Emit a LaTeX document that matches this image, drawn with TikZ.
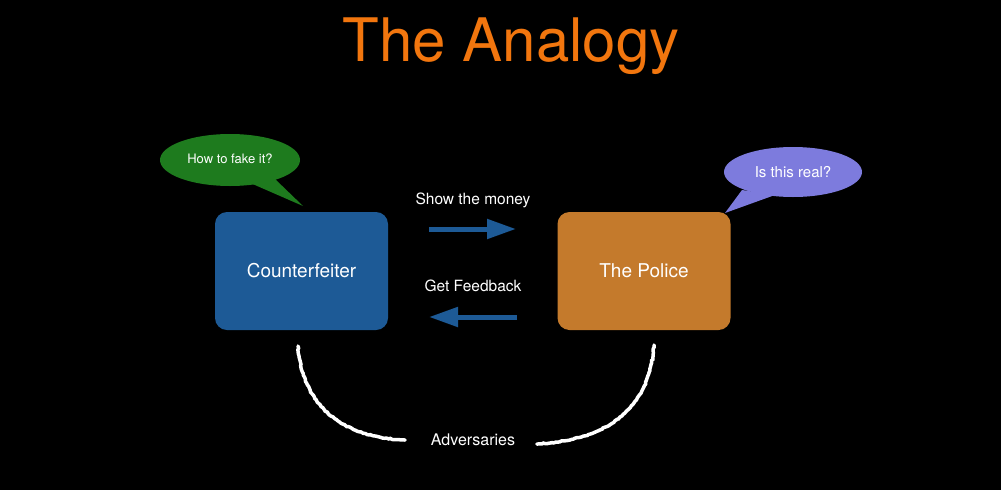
\documentclass[tikz,border=0pt]{standalone}
\usepackage{fontspec}
\setmainfont{TeX Gyre Heros}
\usetikzlibrary{arrows.meta,shapes.geometric,decorations.pathmorphing}
\definecolor{titleorange}{HTML}{F2760E}
\definecolor{boxblue}{HTML}{1D5A96}
\definecolor{boxorange}{HTML}{C47A2C}
\definecolor{bubblegreen}{HTML}{1E7B1E}
\definecolor{bubblepurple}{HTML}{7D7BDD}
\definecolor{arrowblue}{HTML}{1D5A96}
\begin{document}
\begin{tikzpicture}[x=1pt,y=-1pt,
  actor/.style={rounded corners=12pt, minimum width=173pt, minimum height=118pt,
    text=white, font=\fontsize{19}{22}\selectfont, inner sep=0pt},
  label/.style={text=white, font=\fontsize{15.5}{18}\selectfont, inner sep=0pt},
  flow/.style={draw=arrowblue, line width=5pt, -{Triangle[length=29pt,width=19pt]}},
  chalk/.style={draw=white, line width=3.5pt, line cap=round,
    decorate, decoration={random steps, segment length=2pt, amplitude=0.5pt}}]
  % canvas
  \fill[black] (0,0) rectangle (1001,490);
  \useasboundingbox (0,0) rectangle (1001,490);

  % title
  \node[text=titleorange, font=\fontsize{60}{66}\selectfont, inner sep=0pt] (title) at (511,46) {The Analogy};

  % speech bubbles (drawn first so the boxes overlap the tails)
  \fill[bubblegreen] (230,160) ellipse [x radius=70, y radius=26];
  \fill[bubblegreen] (248,182) -- (275,179) -- (303,206) -- cycle;
  \node[text=white, font=\fontsize{13}{15}\selectfont, inner sep=0pt] (fake) at (230,159) {How to fake it?};

  \fill[bubblepurple] (793,172) ellipse [x radius=69, y radius=25];
  \fill[bubblepurple] (742,190) -- (775,195) -- (725,213) -- cycle;
  \node[text=white, font=\fontsize{15}{17}\selectfont, inner sep=0pt] (real) at (793,172) {Is this real?};

  % actors
  \node[actor, fill=boxblue] (cf) at (301.5,271) {Counterfeiter};
  \node[actor, fill=boxorange] (police) at (644,271) {The Police};

  % exchange arrows
  \coordinate (s1) at (429,229);
  \coordinate (e1) at (516,229);
  \coordinate (s2) at (517,317);
  \coordinate (e2) at (429,317);
  \draw[flow] (s1) -- (e1);
  \draw[flow] (s2) -- (e2);
  \node[label] (show) at (473,200) {Show the money};
  \node[label] (feedback) at (473,286) {Get Feedback};

  % adversaries
  \node[label, font=\fontsize{16}{18}\selectfont] (adv) at (473,440) {Adversaries};
  \coordinate (l0) at (298,346);
  \coordinate (l1) at (405,440);
  \coordinate (r0) at (654,345);
  \coordinate (r1) at (537,444);
  \path[chalk] (l0) .. controls (302,400) and (335,437) .. (l1);
  \path[chalk] (r0) .. controls (650,405) and (612,440) .. (r1);
\end{tikzpicture}
\end{document}
